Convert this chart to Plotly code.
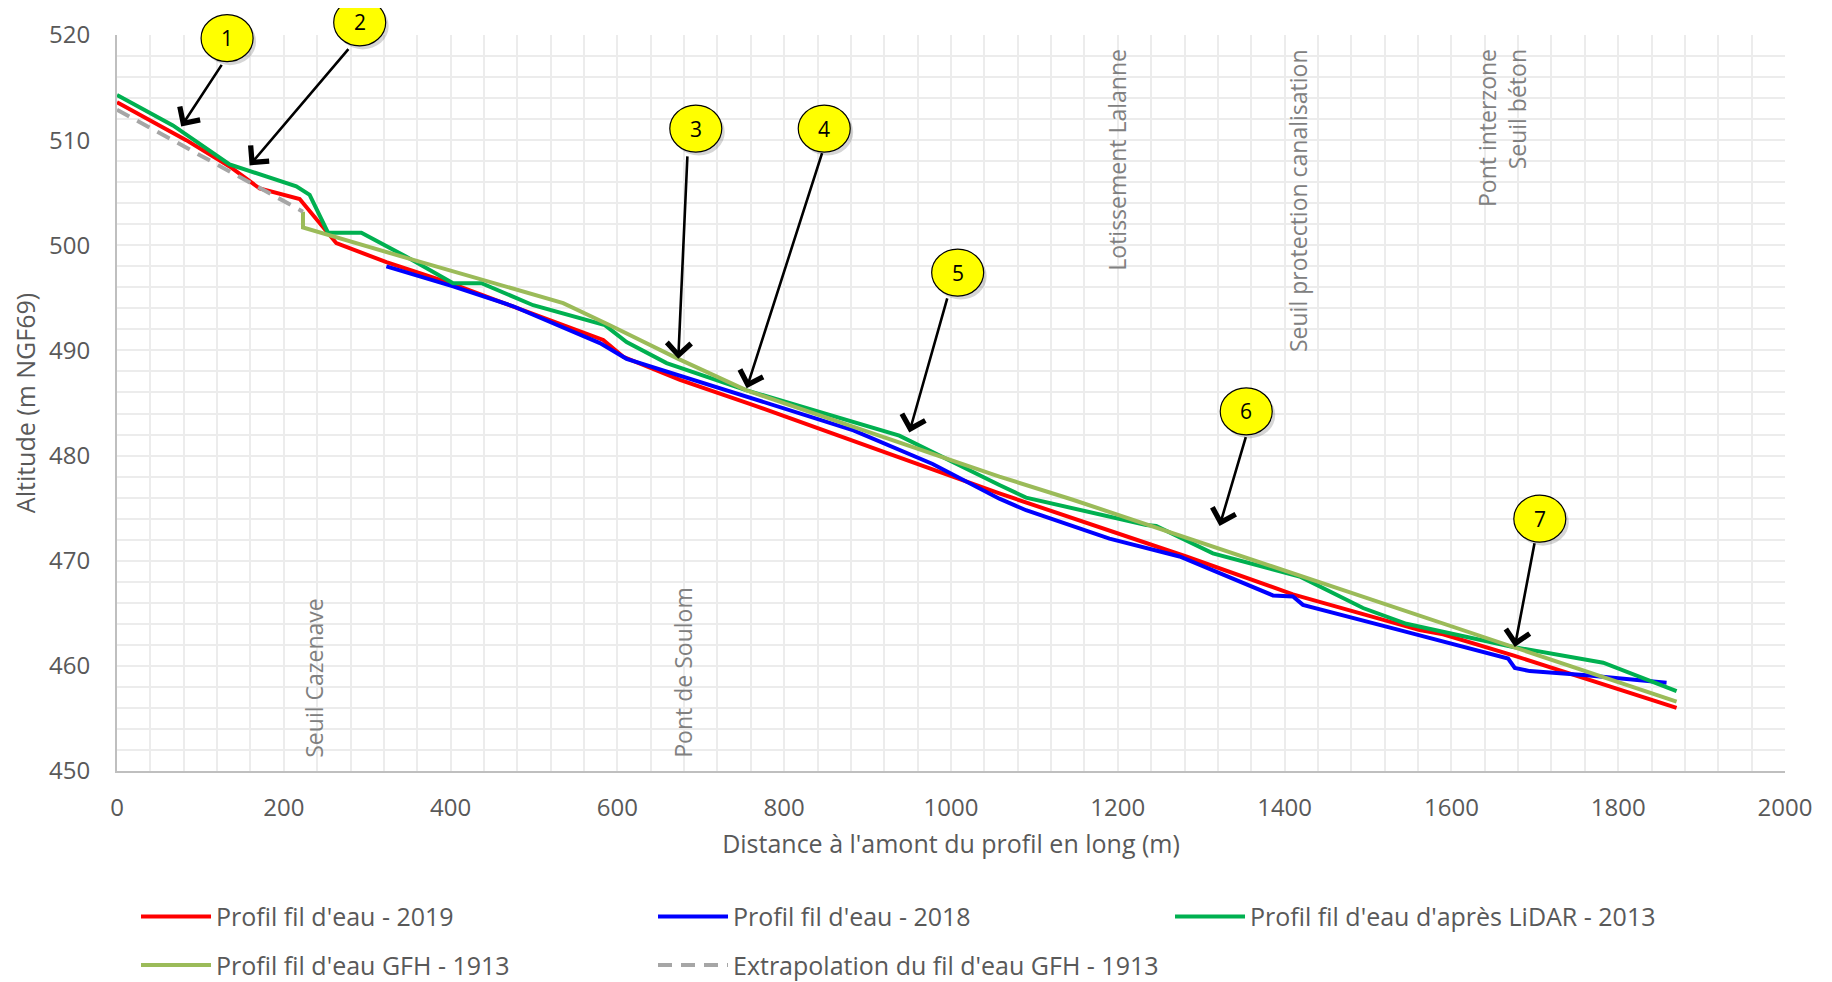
import plotly.graph_objects as go

# ---------------- data ----------------
x_2019 = [0, 83, 135, 171, 219, 263, 323, 403, 535, 583, 607, 675, 763, 958, 1058, 1282, 1410, 1562, 1590, 1674, 1870]
y_2019 = [513.6, 510.0, 507.5, 505.4, 504.4, 500.2, 498.4, 496.3, 492.4, 491.0, 489.4, 487.2, 484.8, 479.2, 476.4, 470.4, 466.8, 463.4, 463.0, 461.0, 456.0]

x_2018 = [323, 403, 475, 579, 611, 755, 883, 978, 1058, 1090, 1190, 1274, 1386, 1410, 1422, 1538, 1668, 1676, 1694, 1762, 1858]
y_2018 = [498.0, 496.1, 494.2, 490.7, 489.2, 485.6, 482.4, 479.2, 475.9, 474.8, 472.1, 470.4, 466.7, 466.6, 465.8, 463.4, 460.7, 459.8, 459.5, 459.1, 458.4]

x_2013 = [0, 67, 135, 215, 231, 253, 293, 347, 403, 437, 499, 585, 611, 659, 755, 938, 1058, 1090, 1234, 1246, 1314, 1418, 1494, 1546, 1598, 1674, 1782, 1870]
y_2013 = [514.3, 511.4, 507.7, 505.6, 504.8, 501.2, 501.2, 498.9, 496.4, 496.4, 494.3, 492.4, 490.8, 488.8, 486.2, 481.9, 477.2, 476.0, 473.4, 473.3, 470.7, 468.5, 465.5, 464.0, 463.1, 461.8, 460.3, 457.6]

x_1913 = [223, 223, 347, 535, 591, 673, 755, 1058, 1146, 1418, 1538, 1658, 1870]
y_1913 = [503.2, 501.7, 498.8, 494.5, 492.4, 489.2, 486.2, 478.0, 475.8, 468.6, 465.4, 462.3, 456.6]

x_extrap = [0, 223]
y_extrap = [512.9, 503.2]

series_names = ["Profil fil d'eau - 2019", "Profil fil d'eau - 2018",
                "Profil fil d'eau d'après LiDAR - 2013", "Profil fil d'eau GFH - 1913",
                "Extrapolation du fil d'eau GFH - 1913"]

# callouts (numbered circles) and arrows
callout_labels = ["1", "2", "3", "4", "5", "6", "7"]
callout_x = [132, 291, 694, 848, 1008, 1354, 1706]
callout_y = [519.7, 521.2, 511.1, 511.1, 497.4, 484.2, 474.0]
arrow_tail_x = [126.7, 279, 684, 846, 996, 1354, 1700]
arrow_tail_y = [517.3, 518.8, 508.6, 508.9, 495.1, 481.9, 471.8]
arrow_tip_x = [77, 159, 673, 755, 950, 1322, 1676]
arrow_tip_y = [511.3, 507.6, 489.2, 486.4, 482.2, 473.3, 461.8]

# landmark labels
low_labels = ["Seuil Cazenave", "Pont de Soulom"]
low_labels_x = [236, 679]
high_labels = ["Lotissement Lalanne", "Seuil protection canalisation", "Pont interzone<br>Seuil béton"]
high_labels_x = [1198, 1416, 1660]

X_RANGE = [0, 2000]
Y_RANGE = [450, 520]

FONT = "Open Sans"
GREY_TXT = "#595959"

fig = go.Figure()

fig.add_trace(go.Scatter(x=x_2019, y=y_2019, mode="lines", name=series_names[0],
                         line=dict(color="#ff0000", width=4), legend="legend"))
fig.add_trace(go.Scatter(x=x_2018, y=y_2018, mode="lines", name=series_names[1],
                         line=dict(color="#0000ff", width=4), legend="legend"))
fig.add_trace(go.Scatter(x=x_2013, y=y_2013, mode="lines", name=series_names[2],
                         line=dict(color="#00b050", width=4), legend="legend"))
fig.add_trace(go.Scatter(x=x_1913, y=y_1913, mode="lines", name=series_names[3],
                         line=dict(color="#9bbb59", width=4), legend="legend2"))
fig.add_trace(go.Scatter(x=x_extrap, y=y_extrap, mode="lines", name=series_names[4],
                         line=dict(color="#a6a6a6", width=4, dash="14px,9px"), legend="legend2"))


def to_paper_x(v):
    return (v - X_RANGE[0]) / (X_RANGE[1] - X_RANGE[0])


def to_paper_y(v):
    return (v - Y_RANGE[0]) / (Y_RANGE[1] - Y_RANGE[0])


shapes = []
annotations = []
# arrows first
for tx, ty, hx, hy in zip(arrow_tail_x, arrow_tail_y, arrow_tip_x, arrow_tip_y):
    annotations.append(dict(x=hx, y=hy, ax=tx, ay=ty, xref="x", yref="y", axref="x", ayref="y",
                            text="", showarrow=True, arrowhead=4, arrowsize=1.8,
                            arrowwidth=2.6, arrowcolor="black"))
# callout circles (paper-referenced so they are not clipped)
for lab, cx, cy in zip(callout_labels, callout_x, callout_y):
    px, py = to_paper_x(cx), to_paper_y(cy)
    shapes.append(dict(type="circle", xref="paper", yref="paper", xsizemode="pixel", ysizemode="pixel",
                       xanchor=px, yanchor=py, x0=-23, x1=29, y0=-27, y1=20,
                       fillcolor="rgba(0,0,0,0.16)", line=dict(width=0), layer="above"))
    shapes.append(dict(type="circle", xref="paper", yref="paper", xsizemode="pixel", ysizemode="pixel",
                       xanchor=px, yanchor=py, x0=-26, x1=26, y0=-23.5, y1=23.5,
                       fillcolor="#ffff00", line=dict(color="black", width=1.2), layer="above"))
    annotations.append(dict(x=px, y=py, xref="paper", yref="paper", text=lab, showarrow=False,
                            xanchor="center", yanchor="middle",
                            font=dict(family=FONT, size=21, color="black")))

for lab, lx in zip(low_labels, low_labels_x):
    annotations.append(dict(x=lx, y=451.1, xref="x", yref="y", text=lab, textangle=-90,
                            showarrow=False, xanchor="center", yanchor="bottom",
                            font=dict(family=FONT, size=23, color="#808080")))
for lab, lx in zip(high_labels, high_labels_x):
    annotations.append(dict(x=lx, y=518.9, xref="x", yref="y", text=lab, textangle=-90,
                            showarrow=False, xanchor="center", yanchor="top", align="right",
                            font=dict(family=FONT, size=23, color="#808080")))

grid = "#ececec"
legend_common = dict(orientation="h", x=0.0114, xanchor="left", yanchor="middle",
                     entrywidth=432, entrywidthmode="pixels", itemwidth=70,
                     font=dict(family=FONT, size=25, color=GREY_TXT), bgcolor="rgba(0,0,0,0)")
fig.update_layout(
    width=1832, height=982,
    margin=dict(l=109, r=55, t=27, b=219, autoexpand=False),
    plot_bgcolor="white", paper_bgcolor="white",
    font=dict(family=FONT, size=24, color=GREY_TXT),
    xaxis=dict(range=X_RANGE, dtick=200, tick0=0, showgrid=True, gridcolor=grid, gridwidth=2,
               minor=dict(dtick=40, showgrid=True, gridcolor=grid, gridwidth=2),
               showline=True, linecolor="#bfbfbf", linewidth=2, zeroline=False,
               ticks="", ticklabelstandoff=14, automargin=False,
               tickfont=dict(family=FONT, size=24, color=GREY_TXT),
               title=dict(text="Distance à l'amont du profil en long (m)", standoff=14,
                          font=dict(family=FONT, size=25, color=GREY_TXT))),
    yaxis=dict(range=Y_RANGE, dtick=10, tick0=450, showgrid=True, gridcolor=grid, gridwidth=2,
               minor=dict(dtick=2, showgrid=True, gridcolor=grid, gridwidth=2),
               showline=True, linecolor="#bfbfbf", linewidth=2, zeroline=False,
               ticks="", ticklabelstandoff=20, automargin=False,
               tickfont=dict(family=FONT, size=24, color=GREY_TXT),
               title=dict(text="Altitude (m NGF69)", standoff=6,
                          font=dict(family=FONT, size=25, color=GREY_TXT))),
    legend=dict(y=-0.198, **legend_common),
    legend2=dict(y=-0.264, **legend_common),
    shapes=shapes,
    annotations=annotations,
    showlegend=True,
)

fig.write_html("out.html")
